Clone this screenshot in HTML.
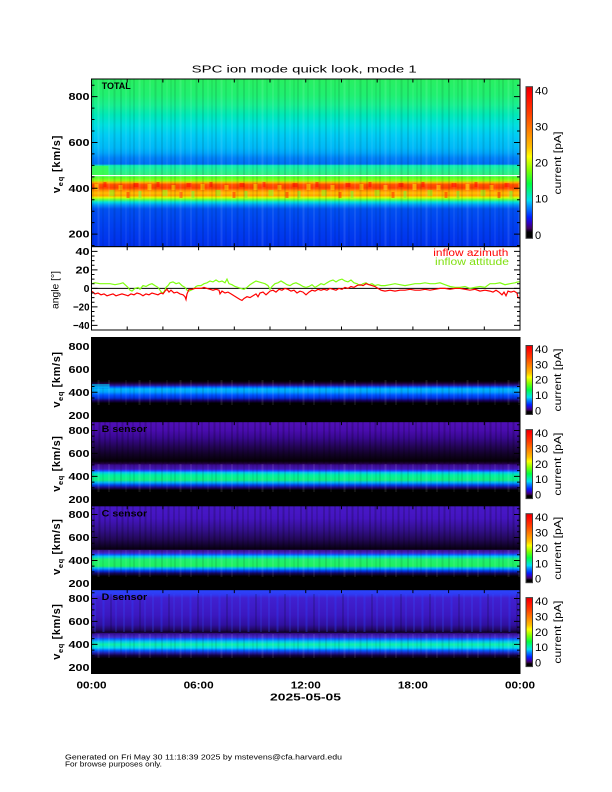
<!DOCTYPE html>
<html>
<head>
<meta charset="utf-8">
<style>
html,body{margin:0;padding:0;background:#fff;}
svg{display:block;}
text{font-family:"Liberation Sans", sans-serif;}
</style>
</head>
<body>
<svg width="612" height="792" viewBox="0 0 612 792" xmlns="http://www.w3.org/2000/svg">
<defs>
  <linearGradient id="gTop" gradientUnits="userSpaceOnUse" x1="0" y1="79" x2="0" y2="246.7">
    <stop offset="0" stop-color="#28f060"/>
    <stop offset="0.095" stop-color="#20f070"/>
    <stop offset="0.155" stop-color="#18f090"/>
    <stop offset="0.215" stop-color="#00e8b8"/>
    <stop offset="0.274" stop-color="#00e0e0"/>
    <stop offset="0.334" stop-color="#00ccf4"/>
    <stop offset="0.411" stop-color="#00b8f8"/>
    <stop offset="0.441" stop-color="#00a4fa"/>
    <stop offset="0.471" stop-color="#0080f8"/>
    <stop offset="0.507" stop-color="#0070f4"/>
    <stop offset="0.516" stop-color="#10f0b0"/>
    <stop offset="0.570" stop-color="#30f080"/>
    <stop offset="0.582" stop-color="#40ff30"/>
    <stop offset="0.605" stop-color="#90ff10"/>
    <stop offset="0.617" stop-color="#ffb000"/>
    <stop offset="0.629" stop-color="#ff5000"/>
    <stop offset="0.650" stop-color="#ff4000"/>
    <stop offset="0.665" stop-color="#ff9000"/>
    <stop offset="0.680" stop-color="#ffc000"/>
    <stop offset="0.695" stop-color="#ffa000"/>
    <stop offset="0.707" stop-color="#e0ff00"/>
    <stop offset="0.719" stop-color="#60ff40"/>
    <stop offset="0.734" stop-color="#00e0e0"/>
    <stop offset="0.752" stop-color="#0090f8"/>
    <stop offset="0.775" stop-color="#0050f0"/>
    <stop offset="0.871" stop-color="#0040f0"/>
    <stop offset="1" stop-color="#0030ec"/>
  </linearGradient>
  <linearGradient id="gA" x1="0" y1="0" x2="0" y2="1">
    <stop offset="0" stop-color="#000"/>
    <stop offset="0.518" stop-color="#000"/>
    <stop offset="0.542" stop-color="#180030"/>
    <stop offset="0.571" stop-color="#2818a0"/>
    <stop offset="0.589" stop-color="#0060ff"/>
    <stop offset="0.613" stop-color="#00b8f8"/>
    <stop offset="0.649" stop-color="#00a0ff"/>
    <stop offset="0.685" stop-color="#0050ff"/>
    <stop offset="0.720" stop-color="#0030d8"/>
    <stop offset="0.750" stop-color="#180060"/>
    <stop offset="0.780" stop-color="#000"/>
    <stop offset="1" stop-color="#000"/>
  </linearGradient>
  <linearGradient id="gB" x1="0" y1="0" x2="0" y2="1">
    <stop offset="0" stop-color="#5010b8"/>
    <stop offset="0.1" stop-color="#4a0cb0"/>
    <stop offset="0.195" stop-color="#380890"/>
    <stop offset="0.292" stop-color="#240558"/>
    <stop offset="0.387" stop-color="#120228"/>
    <stop offset="0.469" stop-color="#060008"/>
    <stop offset="0.499" stop-color="#200040"/>
    <stop offset="0.517" stop-color="#3a0c90"/>
    <stop offset="0.564" stop-color="#4418b8"/>
    <stop offset="0.582" stop-color="#2040ff"/>
    <stop offset="0.606" stop-color="#00c8f0"/>
    <stop offset="0.636" stop-color="#00f0a0"/>
    <stop offset="0.695" stop-color="#10f080"/>
    <stop offset="0.725" stop-color="#00b0f8"/>
    <stop offset="0.755" stop-color="#0040e8"/>
    <stop offset="0.785" stop-color="#1c0878"/>
    <stop offset="0.814" stop-color="#000"/>
    <stop offset="1" stop-color="#000"/>
  </linearGradient>
  <linearGradient id="gC" x1="0" y1="0" x2="0" y2="1">
    <stop offset="0" stop-color="#4818c8"/>
    <stop offset="0.15" stop-color="#4414c0"/>
    <stop offset="0.28" stop-color="#341090"/>
    <stop offset="0.40" stop-color="#220858"/>
    <stop offset="0.48" stop-color="#100228"/>
    <stop offset="0.52" stop-color="#080010"/>
    <stop offset="0.53" stop-color="#38108c"/>
    <stop offset="0.565" stop-color="#4428c8"/>
    <stop offset="0.58" stop-color="#1050ff"/>
    <stop offset="0.605" stop-color="#00c8f0"/>
    <stop offset="0.64" stop-color="#20f070"/>
    <stop offset="0.72" stop-color="#20f060"/>
    <stop offset="0.745" stop-color="#00b0f8"/>
    <stop offset="0.78" stop-color="#0030e0"/>
    <stop offset="0.805" stop-color="#140660"/>
    <stop offset="0.84" stop-color="#000"/>
    <stop offset="1" stop-color="#000"/>
  </linearGradient>
  <linearGradient id="gD" x1="0" y1="0" x2="0" y2="1">
    <stop offset="0" stop-color="#2848ff"/>
    <stop offset="0.06" stop-color="#3038f0"/>
    <stop offset="0.10" stop-color="#4020d0"/>
    <stop offset="0.30" stop-color="#3c18c0"/>
    <stop offset="0.42" stop-color="#3010a0"/>
    <stop offset="0.48" stop-color="#200860"/>
    <stop offset="0.51" stop-color="#0c0220"/>
    <stop offset="0.525" stop-color="#380e98"/>
    <stop offset="0.57" stop-color="#4430d0"/>
    <stop offset="0.585" stop-color="#1058ff"/>
    <stop offset="0.62" stop-color="#00c8f0"/>
    <stop offset="0.655" stop-color="#10f0a8"/>
    <stop offset="0.695" stop-color="#00d8f0"/>
    <stop offset="0.725" stop-color="#0060ff"/>
    <stop offset="0.755" stop-color="#2020b0"/>
    <stop offset="0.785" stop-color="#100040"/>
    <stop offset="0.82" stop-color="#000"/>
    <stop offset="1" stop-color="#000"/>
  </linearGradient>
  <linearGradient id="gCb" x1="0" y1="1" x2="0" y2="0">
    <stop offset="0" stop-color="#000"/>
    <stop offset="0.04" stop-color="#000"/>
    <stop offset="0.066" stop-color="#400060"/>
    <stop offset="0.10" stop-color="#3000c0"/>
    <stop offset="0.14" stop-color="#0020ff"/>
    <stop offset="0.21" stop-color="#0090ff"/>
    <stop offset="0.25" stop-color="#00e0f0"/>
    <stop offset="0.30" stop-color="#00f0a0"/>
    <stop offset="0.36" stop-color="#00ff40"/>
    <stop offset="0.45" stop-color="#80ff00"/>
    <stop offset="0.54" stop-color="#ffff00"/>
    <stop offset="0.60" stop-color="#ffc000"/>
    <stop offset="0.71" stop-color="#ff8000"/>
    <stop offset="0.82" stop-color="#ff4000"/>
    <stop offset="0.96" stop-color="#ff0000"/>
    <stop offset="1" stop-color="#e00000"/>
  </linearGradient>
  <pattern id="st" x="91.5" y="0" width="41" height="8" patternUnits="userSpaceOnUse">
    <rect x="1" width="1" height="8" fill="#000" opacity=".18"/>
    <rect x="6" width="2" height="8" fill="#fff" opacity=".10"/>
    <rect x="11" width="1" height="8" fill="#000" opacity=".12"/>
    <rect x="17" width="1" height="8" fill="#fff" opacity=".15"/>
    <rect x="22" width="2" height="8" fill="#000" opacity=".10"/>
    <rect x="29" width="1" height="8" fill="#000" opacity=".2"/>
    <rect x="34" width="1" height="8" fill="#fff" opacity=".1"/>
    <rect x="38" width="1" height="8" fill="#000" opacity=".12"/>
  </pattern>
  <pattern id="hot" x="91.5" y="182" width="53" height="18" patternUnits="userSpaceOnUse">
    <rect x="3" y="2" width="4" height="6" fill="#ffe000" opacity=".6"/>
    <rect x="12" y="0" width="3" height="5" fill="#ff0000" opacity=".5"/>
    <rect x="18" y="8" width="5" height="6" fill="#80ff20" opacity=".5"/>
    <rect x="27" y="3" width="4" height="5" fill="#ffd000" opacity=".6"/>
    <rect x="35" y="10" width="3" height="6" fill="#ff2000" opacity=".5"/>
    <rect x="42" y="1" width="5" height="4" fill="#ff0000" opacity=".5"/>
    <rect x="47" y="9" width="3" height="7" fill="#60ff40" opacity=".5"/>
  </pattern>
  <pattern id="dk" x="91.5" y="0" width="23" height="8" patternUnits="userSpaceOnUse">
    <rect x="2" width="1" height="8" fill="#000" opacity=".35"/>
    <rect x="7" width="2" height="8" fill="#000" opacity=".2"/>
    <rect x="13" width="1" height="8" fill="#000" opacity=".3"/>
    <rect x="18" width="1" height="8" fill="#000" opacity=".25"/>
  </pattern>
  <pattern id="bst" x="91.5" y="0" width="29" height="8" patternUnits="userSpaceOnUse">
    <rect x="3" width="1" height="8" fill="#3050ff" opacity=".5"/>
    <rect x="11" width="2" height="8" fill="#2840ff" opacity=".35"/>
    <rect x="19" width="1" height="8" fill="#000" opacity=".3"/>
    <rect x="24" width="1" height="8" fill="#3050ff" opacity=".4"/>
  </pattern>
  <path id="xt" d="M127.2 0v3.5M162.9 0v3.5M198.6 0v3.5M234.3 0v3.5M270 0v3.5M305.75 0v3.5M341.5 0v3.5M377.2 0v3.5M412.9 0v3.5M448.6 0v3.5M484.3 0v3.5"/>
  <path id="xb" d="M127.2 0v-3.5M162.9 0v-3.5M198.6 0v-3.5M234.3 0v-3.5M270 0v-3.5M305.75 0v-3.5M341.5 0v-3.5M377.2 0v-3.5M412.9 0v-3.5M448.6 0v-3.5M484.3 0v-3.5"/>
  <path id="ly" d="M91.5 3.1h3M91.5 8.84h6M91.5 14.57h3M91.5 20.31h3M91.5 26.05h3M91.5 31.79h6M91.5 37.52h3M91.5 43.26h3M91.5 49h3M91.5 54.74h6M91.5 60.47h3M91.5 66.21h3M91.5 71.95h3M91.5 77.68h6M91.5 83.42h3M520 3.1h-3M520 8.84h-6M520 14.57h-3M520 20.31h-3M520 26.05h-3M520 31.79h-6M520 37.52h-3M520 43.26h-3M520 49h-3M520 54.74h-6M520 60.47h-3M520 66.21h-3M520 71.95h-3M520 77.68h-6M520 83.42h-3"/>
</defs>

<!-- Title -->
<text x="304.2" y="72.5" font-size="10.5" text-anchor="middle" textLength="225" lengthAdjust="spacingAndGlyphs" fill="#000">SPC ion mode quick look, mode 1</text>

<!-- TOP PANEL -->
<rect x="91.5" y="79" width="428.5" height="167.7" fill="url(#gTop)"/>
<rect x="91.5" y="182" width="428.5" height="18" fill="url(#hot)"/>
<rect x="91.5" y="79" width="428.5" height="167.7" fill="url(#st)"/>
<rect x="91.5" y="166" width="17" height="9" fill="#40ff40" opacity=".7"/>
<rect x="91.5" y="175" width="428.5" height="1.2" fill="#ffffff"/>
<text x="101.7" y="89" font-size="9.5" font-weight="bold" textLength="29" lengthAdjust="spacingAndGlyphs" fill="#000">TOTAL</text>
<rect x="91.5" y="79" width="428.5" height="167.7" fill="none" stroke="#000" stroke-width="1"/>
<g stroke="#000" stroke-width="1" fill="none">
  <use href="#xt" transform="translate(0,79)"/>
  <use href="#xb" transform="translate(0,246.7)"/>
  <path d="M91.5 85.19h3M91.5 96.64h6M91.5 108.1h3M91.5 119.55h3M91.5 131.01h3M91.5 142.46h6M91.5 153.92h3M91.5 165.37h3M91.5 176.83h3M91.5 188.28h6M91.5 199.74h3M91.5 211.19h3M91.5 222.65h3M91.5 234.1h6M91.5 245.56h3
           M520 85.19h-3M520 96.64h-6M520 108.1h-3M520 119.55h-3M520 131.01h-3M520 142.46h-6M520 153.92h-3M520 165.37h-3M520 176.83h-3M520 188.28h-6M520 199.74h-3M520 211.19h-3M520 222.65h-3M520 234.1h-6M520 245.56h-3"/>
</g>
<g font-size="10.5" font-weight="bold" text-anchor="end" fill="#000">
  <text x="89.5" y="100.2" textLength="21" lengthAdjust="spacingAndGlyphs">800</text>
  <text x="89.5" y="146" textLength="21" lengthAdjust="spacingAndGlyphs">600</text>
  <text x="89.5" y="191.8" textLength="21" lengthAdjust="spacingAndGlyphs">400</text>
  <text x="89.5" y="237.6" textLength="21" lengthAdjust="spacingAndGlyphs">200</text>
</g>
<text transform="translate(60,164) rotate(-90)" text-anchor="middle" font-size="11" font-weight="bold" letter-spacing="0.8" fill="#000">v<tspan font-size="7.5" dy="3">eq</tspan><tspan dy="-3"> [km/s]</tspan></text>

<!-- top colorbar -->
<rect x="526" y="86.7" width="6.5" height="151.6" fill="url(#gCb)" stroke="#404040" stroke-width="1"/>
<g font-size="11" fill="#000">
  <text x="535" y="94.4" textLength="13" lengthAdjust="spacingAndGlyphs">40</text>
  <text x="535" y="130.5" textLength="13" lengthAdjust="spacingAndGlyphs">30</text>
  <text x="535" y="166.6" textLength="13" lengthAdjust="spacingAndGlyphs">20</text>
  <text x="535" y="202.7" textLength="13" lengthAdjust="spacingAndGlyphs">10</text>
  <text x="535" y="238.8">0</text>
</g>
<text transform="translate(561,163) rotate(-90)" text-anchor="middle" font-size="10" textLength="63" lengthAdjust="spacingAndGlyphs" fill="#000">current [pA]</text>

<!-- ANGLE PANEL -->
<rect x="91.5" y="246.7" width="428.5" height="83.3" fill="#fff"/>
<line x1="91.5" y1="288.35" x2="520" y2="288.35" stroke="#000" stroke-width="1"/>
<polyline fill="none" stroke="#80ff10" stroke-width="1.2" points="91.5,283.7 95,282.8 100,283.7 105,283.7 110,283.7 115,284.7 120,283.7 123,282.8 126,285.6 128,287.4 130,290.2 132,291.1 135,288.4 138,287.4 140,289.3 143,285.6 146,286.5 149,284.7 152,283.7 155,285.6 158,287.4 160,290.2 162,293 164,292.1 166,287.4 168,285.6 170,282.8 173,281.9 176,283.7 179,282.8 182,285.6 185,287.4 187,290.2 189,291.1 191,290.2 193,289.3 196,286.5 198,285.6 201,285.6 204,283.7 207,282.8 210,281 213,281.9 216,280 219,281.9 222,281 225,282.8 227,279.1 229,283.7 232,284.7 235,286.5 238,287.4 241,288.4 244,289.3 247,287.4 250,284.7 253,282.8 256,281 259,281.9 262,282.8 265,283.7 268,285.6 270,289.3 272,286.5 275,283.7 278,282.8 281,281 284,282.8 287,284.7 290,285.6 293,283.7 296,282.8 300,284.7 303,286.5 306,287.4 309,286.5 312,284.7 315,287.4 318,285.6 321,283.7 324,284.7 327,282.8 330,281 333,280 336,281.9 339,280 342,279.1 345,281 348,281.9 351,280 354,282.8 357,283.7 360,285.6 363,283.7 366,282.8 369,284.7 372,283.7 375,285.6 378,284.7 381,285.6 385,285.6 390,284.7 395,283.7 400,284.7 405,285.6 410,284.7 415,283.7 420,283.7 425,282.8 430,283.7 435,283.7 440,282.8 445,284.7 450,286.5 455,287.4 460,287.4 465,286.5 470,288.4 475,287.4 480,286.5 485,287.4 490,283.7 495,283.7 500,282.8 505,284.7 510,283.7 515,282.8 518,281.9 520,281.9"/>
<polyline fill="none" stroke="#ff0000" stroke-width="1.2" points="91.5,291.1 93,292.1 95,293.9 98,293 101,294.8 104,293.9 107,295.8 110,294.8 113,293.9 116,295.8 119,294.8 122,293.9 125,294.8 128,295.8 131,293.9 134,294.8 137,293 140,293.9 143,295.8 146,293.9 149,294.8 152,293 155,293.9 158,294.8 161,293 163,293.9 165,291.1 167,289.3 169,292.1 171,290.2 174,293 177,292.1 180,293.9 183,294.8 185,296.7 186,299.5 187,293.9 189,289.3 192,289.3 195,288.4 198,288.4 201,288.4 204,287.4 207,288.4 210,289.3 213,290.2 216,289.3 219,290.2 220,293.9 222,291.1 225,293 228,292.1 231,293.9 234,295.8 237,297.6 240,299.5 242,300.4 244,298.5 247,296.7 250,297.6 253,295.8 256,293.9 258,296.7 260,293 263,292.1 266,294.8 268,293 270,291.1 273,290.2 276,292.1 279,289.3 282,290.2 285,288.4 288,289.3 291,291.1 294,290.2 297,293 300,291.1 303,292.1 306,294.8 309,292.1 312,290.2 315,291.1 318,289.3 321,290.2 324,289.3 327,290.2 330,288.4 333,289.3 336,290.2 339,288.4 342,289.3 345,287.4 348,288.4 351,286.5 354,287.4 357,285.6 360,284.7 363,285.6 366,283.7 369,284.7 372,285.6 375,286.5 378,288.4 381,290.2 385,291.1 390,290.2 395,291.1 400,290.2 405,290.2 410,289.3 415,290.2 420,290.2 425,289.3 430,290.2 435,289.3 440,288.4 445,288.4 450,289.3 455,288.4 460,288.4 465,289.3 470,290.2 475,289.3 480,291.1 485,290.2 490,291.1 493,292.1 496,290.2 499,292.1 502,294.8 504,292.1 506,295.8 508,291.1 511,292.1 514,291.1 517,293 518,297.6 520,298.5"/>
<text x="433.3" y="256" font-size="10" fill="#ff0000" textLength="75" lengthAdjust="spacingAndGlyphs">inflow azimuth</text>
<text x="435" y="265" font-size="10" fill="#80e010" textLength="74" lengthAdjust="spacingAndGlyphs">inflow attitude</text>
<rect x="91.5" y="246.7" width="428.5" height="83.3" fill="none" stroke="#000" stroke-width="1"/>
<g stroke="#000" stroke-width="1" fill="none">
  <use href="#xt" transform="translate(0,246.7)"/>
  <use href="#xb" transform="translate(0,330)"/>
  <path d="M91.5 251.33h6M91.5 255.95h3M91.5 260.58h3M91.5 265.21h3M91.5 269.84h6M91.5 274.47h3M91.5 279.09h3M91.5 283.72h3M91.5 288.35h6M91.5 292.98h3M91.5 297.61h3M91.5 302.23h3M91.5 306.86h6M91.5 311.49h3M91.5 316.12h3M91.5 320.75h3M91.5 325.37h6
           M520 251.33h-6M520 255.95h-3M520 260.58h-3M520 265.21h-3M520 269.84h-6M520 274.47h-3M520 279.09h-3M520 283.72h-3M520 288.35h-6M520 292.98h-3M520 297.61h-3M520 302.23h-3M520 306.86h-6M520 311.49h-3M520 316.12h-3M520 320.75h-3M520 325.37h-6"/>
</g>
<g font-size="10.5" font-weight="bold" text-anchor="end" fill="#000">
  <text x="89.5" y="255" textLength="14" lengthAdjust="spacingAndGlyphs">40</text>
  <text x="89.5" y="273.5" textLength="14" lengthAdjust="spacingAndGlyphs">20</text>
  <text x="89.5" y="292">0</text>
  <text x="89.5" y="310.5" textLength="16.5" lengthAdjust="spacingAndGlyphs">−20</text>
  <text x="89.5" y="329" textLength="16.5" lengthAdjust="spacingAndGlyphs">−40</text>
</g>
<text transform="translate(58.5,290) rotate(-90)" text-anchor="middle" font-size="10" textLength="38" lengthAdjust="spacingAndGlyphs" fill="#000">angle [°]</text>

<!-- PANEL A -->
<rect x="91.5" y="337.5" width="428.5" height="84.1" fill="url(#gA)"/>
<rect x="91.5" y="380" width="428.5" height="25" fill="url(#st)"/>
<rect x="91.5" y="384" width="18" height="4" fill="#00d0f0" opacity=".6"/>
<!-- PANEL B -->
<rect x="91.5" y="421.6" width="428.5" height="84.1" fill="url(#gB)"/>
<rect x="91.5" y="421.6" width="428.5" height="42" fill="url(#dk)"/>
<rect x="91.5" y="464" width="428.5" height="28" fill="url(#st)"/>
<!-- PANEL C -->
<rect x="91.5" y="505.7" width="428.5" height="83.9" fill="url(#gC)"/>
<rect x="91.5" y="505.7" width="428.5" height="44" fill="url(#dk)"/>
<rect x="91.5" y="550" width="428.5" height="27" fill="url(#st)"/>
<!-- PANEL D -->
<rect x="91.5" y="589.6" width="428.5" height="83.9" fill="url(#gD)"/>
<rect x="91.5" y="594" width="428.5" height="38" fill="url(#bst)"/>
<rect x="91.5" y="634" width="428.5" height="24" fill="url(#st)"/>

<g font-size="9.5" font-weight="bold" fill="#000">
  <text x="101.7" y="432.1" textLength="45.5" lengthAdjust="spacingAndGlyphs">B sensor</text>
  <text x="101.7" y="516.4" textLength="45.5" lengthAdjust="spacingAndGlyphs">C sensor</text>
  <text x="101.7" y="600.2" textLength="45.5" lengthAdjust="spacingAndGlyphs">D sensor</text>
</g>

<g fill="none" stroke="#000" stroke-width="1">
  <rect x="91.5" y="337.5" width="428.5" height="84.1"/>
  <rect x="91.5" y="421.6" width="428.5" height="84.1"/>
  <rect x="91.5" y="505.7" width="428.5" height="83.9"/>
  <rect x="91.5" y="589.6" width="428.5" height="83.9"/>
  <use href="#xt" transform="translate(0,337.5)"/>
  <use href="#xb" transform="translate(0,421.6)"/>
  <use href="#xt" transform="translate(0,421.6)"/>
  <use href="#xb" transform="translate(0,505.7)"/>
  <use href="#xt" transform="translate(0,505.7)"/>
  <use href="#xb" transform="translate(0,589.6)"/>
  <use href="#xt" transform="translate(0,589.6)"/>
  <use href="#xb" transform="translate(0,673.5)"/>
  <use href="#ly" transform="translate(0,337.5)"/>
  <use href="#ly" transform="translate(0,421.6)"/>
  <use href="#ly" transform="translate(0,505.7)"/>
  <use href="#ly" transform="translate(0,589.6)"/>
</g>

<!-- lower y labels -->
<g font-size="10.5" font-weight="bold" text-anchor="end" fill="#000">
  <text x="89.5" y="349.9" textLength="21" lengthAdjust="spacingAndGlyphs">800</text>
  <text x="89.5" y="372.9" textLength="21" lengthAdjust="spacingAndGlyphs">600</text>
  <text x="89.5" y="395.8" textLength="21" lengthAdjust="spacingAndGlyphs">400</text>
  <text x="89.5" y="418.8" textLength="21" lengthAdjust="spacingAndGlyphs">200</text>

  <text x="89.5" y="434" textLength="21" lengthAdjust="spacingAndGlyphs">800</text>
  <text x="89.5" y="457" textLength="21" lengthAdjust="spacingAndGlyphs">600</text>
  <text x="89.5" y="479.9" textLength="21" lengthAdjust="spacingAndGlyphs">400</text>
  <text x="89.5" y="502.9" textLength="21" lengthAdjust="spacingAndGlyphs">200</text>

  <text x="89.5" y="518.1" textLength="21" lengthAdjust="spacingAndGlyphs">800</text>
  <text x="89.5" y="541.1" textLength="21" lengthAdjust="spacingAndGlyphs">600</text>
  <text x="89.5" y="564" textLength="21" lengthAdjust="spacingAndGlyphs">400</text>
  <text x="89.5" y="587" textLength="21" lengthAdjust="spacingAndGlyphs">200</text>

  <text x="89.5" y="602" textLength="21" lengthAdjust="spacingAndGlyphs">800</text>
  <text x="89.5" y="625" textLength="21" lengthAdjust="spacingAndGlyphs">600</text>
  <text x="89.5" y="647.9" textLength="21" lengthAdjust="spacingAndGlyphs">400</text>
  <text x="89.5" y="670.9" textLength="21" lengthAdjust="spacingAndGlyphs">200</text>
</g>
<g font-size="11" font-weight="bold" letter-spacing="0.6" text-anchor="middle" fill="#000">
  <text transform="translate(60,379.5) rotate(-90)">v<tspan font-size="7.5" dy="3">eq</tspan><tspan dy="-3"> [km/s]</tspan></text>
  <text transform="translate(60,463.6) rotate(-90)">v<tspan font-size="7.5" dy="3">eq</tspan><tspan dy="-3"> [km/s]</tspan></text>
  <text transform="translate(60,546.7) rotate(-90)">v<tspan font-size="7.5" dy="3">eq</tspan><tspan dy="-3"> [km/s]</tspan></text>
  <text transform="translate(60,631.6) rotate(-90)">v<tspan font-size="7.5" dy="3">eq</tspan><tspan dy="-3"> [km/s]</tspan></text>
</g>

<!-- lower colorbars -->
<g stroke="#404040" stroke-width="1">
  <rect x="526" y="345.5" width="6.5" height="69" fill="url(#gCb)"/>
  <rect x="526" y="429.6" width="6.5" height="69" fill="url(#gCb)"/>
  <rect x="526" y="513.7" width="6.5" height="69" fill="url(#gCb)"/>
  <rect x="526" y="597.6" width="6.5" height="69" fill="url(#gCb)"/>
</g>
<g font-size="11" fill="#000">
  <text x="535" y="353" textLength="13" lengthAdjust="spacingAndGlyphs">40</text>
  <text x="535" y="368.35" textLength="13" lengthAdjust="spacingAndGlyphs">30</text>
  <text x="535" y="383.7" textLength="13" lengthAdjust="spacingAndGlyphs">20</text>
  <text x="535" y="399.05" textLength="13" lengthAdjust="spacingAndGlyphs">10</text>
  <text x="535" y="414.4">0</text>

  <text x="535" y="437.1" textLength="13" lengthAdjust="spacingAndGlyphs">40</text>
  <text x="535" y="452.45" textLength="13" lengthAdjust="spacingAndGlyphs">30</text>
  <text x="535" y="467.8" textLength="13" lengthAdjust="spacingAndGlyphs">20</text>
  <text x="535" y="483.15" textLength="13" lengthAdjust="spacingAndGlyphs">10</text>
  <text x="535" y="498.5">0</text>

  <text x="535" y="521.2" textLength="13" lengthAdjust="spacingAndGlyphs">40</text>
  <text x="535" y="536.55" textLength="13" lengthAdjust="spacingAndGlyphs">30</text>
  <text x="535" y="551.9" textLength="13" lengthAdjust="spacingAndGlyphs">20</text>
  <text x="535" y="567.25" textLength="13" lengthAdjust="spacingAndGlyphs">10</text>
  <text x="535" y="582.6">0</text>

  <text x="535" y="605.1" textLength="13" lengthAdjust="spacingAndGlyphs">40</text>
  <text x="535" y="620.45" textLength="13" lengthAdjust="spacingAndGlyphs">30</text>
  <text x="535" y="635.8" textLength="13" lengthAdjust="spacingAndGlyphs">20</text>
  <text x="535" y="651.15" textLength="13" lengthAdjust="spacingAndGlyphs">10</text>
  <text x="535" y="666.5">0</text>
</g>
<g font-size="10" fill="#000" text-anchor="middle">
  <text transform="translate(561,380) rotate(-90)" textLength="63" lengthAdjust="spacingAndGlyphs">current [pA]</text>
  <text transform="translate(561,464.1) rotate(-90)" textLength="63" lengthAdjust="spacingAndGlyphs">current [pA]</text>
  <text transform="translate(561,548.2) rotate(-90)" textLength="63" lengthAdjust="spacingAndGlyphs">current [pA]</text>
  <text transform="translate(561,632.1) rotate(-90)" textLength="63" lengthAdjust="spacingAndGlyphs">current [pA]</text>
</g>

<!-- time axis labels -->
<g font-size="10" font-weight="bold" text-anchor="middle" fill="#000">
  <text x="91.5" y="688.3" textLength="30" lengthAdjust="spacingAndGlyphs">00:00</text>
  <text x="198.6" y="688.3" textLength="30" lengthAdjust="spacingAndGlyphs">06:00</text>
  <text x="305.75" y="688.3" textLength="30" lengthAdjust="spacingAndGlyphs">12:00</text>
  <text x="412.9" y="688.3" textLength="30" lengthAdjust="spacingAndGlyphs">18:00</text>
  <text x="520" y="688.3" textLength="30" lengthAdjust="spacingAndGlyphs">00:00</text>
  <text x="305.5" y="700.7" textLength="71" lengthAdjust="spacingAndGlyphs">2025-05-05</text>
</g>

<!-- footer -->
<g font-size="7.5" fill="#000">
  <text x="65" y="759.5" textLength="277" lengthAdjust="spacingAndGlyphs">Generated on Fri May 30 11:18:39 2025 by mstevens@cfa.harvard.edu</text>
  <text x="65" y="766.5" textLength="97" lengthAdjust="spacingAndGlyphs">For browse purposes only.</text>
</g>
</svg>
</body>
</html>
